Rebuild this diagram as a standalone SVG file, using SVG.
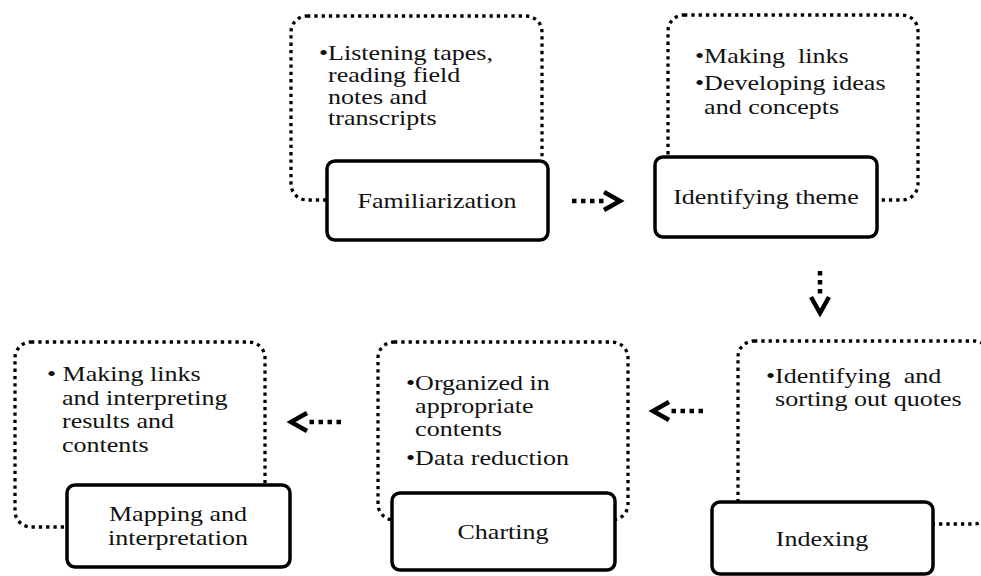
<svg xmlns="http://www.w3.org/2000/svg" width="981" height="576" viewBox="0 0 981 576">
<style>
.dot{fill:none;stroke:#000;stroke-width:3.3;stroke-dasharray:3.3 4}
.box{fill:#fff;stroke:#000;stroke-width:3.5}
text{font-family:'Liberation Serif','Times New Roman',serif;font-size:21px;fill:#111}
.c{text-anchor:middle}
.arr{fill:none;stroke:#000;stroke-width:4.5;stroke-dasharray:4.5 4.5}
</style>
<defs>
<marker id="chev" viewBox="0 0 26 26" refX="3" refY="13" markerWidth="26" markerHeight="26" markerUnits="userSpaceOnUse" orient="auto" overflow="visible">
<path d="M3,4 L19,13 L3,22" fill="none" stroke="#000" stroke-width="4.5"/>
</marker>
</defs>
<rect width="981" height="576" fill="#fff"/>

<g id="familiarization">
<rect class="dot" x="291" y="16" width="251" height="184" rx="16"/>
<text xml:space="preserve" transform="translate(319,0) scale(1.24,1)"><tspan x="0" y="60">•Listening tapes,</tspan><tspan x="7.35" y="82">reading field</tspan><tspan x="7.35" y="104">notes and</tspan><tspan x="7.35" y="125">transcripts</tspan></text>
<rect class="box" x="327" y="161" width="221" height="79" rx="8"/>
<text class="c" transform="translate(437,0) scale(1.24,1)" x="0" y="208">Familiarization</text>
</g>

<g id="identifying-theme">
<rect class="dot" x="668" y="15" width="250" height="185" rx="16"/>
<text xml:space="preserve" transform="translate(695,0) scale(1.24,1)"><tspan x="0" y="63">•Making  links</tspan><tspan x="0" y="90">•Developing ideas</tspan><tspan x="7.35" y="114">and concepts</tspan></text>
<rect class="box" x="655" y="157" width="222" height="80" rx="8"/>
<text class="c" transform="translate(766,0) scale(1.24,1)" x="0" y="204">Identifying theme</text>
</g>

<g id="indexing">
<rect class="dot" x="738" y="341" width="252" height="183" rx="16"/>
<text xml:space="preserve" transform="translate(766,0) scale(1.24,1)"><tspan x="0" y="383">•Identifying  and</tspan><tspan x="7.35" y="406">sorting out quotes</tspan></text>
<rect class="box" x="712" y="502" width="221" height="72" rx="8"/>
<text class="c" transform="translate(822,0) scale(1.24,1)" x="0" y="546">Indexing</text>
</g>

<g id="charting">
<rect class="dot" x="378" y="342" width="250" height="178" rx="16"/>
<text xml:space="preserve" transform="translate(406,0) scale(1.24,1)"><tspan x="0" y="390">•Organized in</tspan><tspan x="7.35" y="413">appropriate</tspan><tspan x="7.35" y="436">contents</tspan><tspan x="0" y="465">•Data reduction</tspan></text>
<rect class="box" x="392" y="493" width="223" height="77" rx="8"/>
<text class="c" transform="translate(503,0) scale(1.24,1)" x="0" y="539">Charting</text>
</g>

<g id="mapping">
<rect class="dot" x="15" y="342" width="250" height="185" rx="16"/>
<text xml:space="preserve" transform="translate(47,0) scale(1.24,1)"><tspan x="0" y="381">• Making links</tspan><tspan x="12.1" y="405">and interpreting</tspan><tspan x="12.1" y="428">results and</tspan><tspan x="12.1" y="452">contents</tspan></text>
<rect class="box" x="67" y="485" width="223" height="82" rx="8"/>
<text class="c" transform="translate(178,0) scale(1.24,1)" x="0" y="521">Mapping and</text>
<text class="c" transform="translate(178,0) scale(1.24,1)" x="0" y="545">interpretation</text>
</g>

<g id="connectors">
<path class="arr" d="M572,201 L604,201" marker-end="url(#chev)"/>
<path class="arr" d="M820,271 L820,297" marker-end="url(#chev)"/>
<path class="arr" d="M703,411 L669,411" marker-end="url(#chev)"/>
<path class="arr" d="M341,422 L307,422" marker-end="url(#chev)"/>
</g>
</svg>
